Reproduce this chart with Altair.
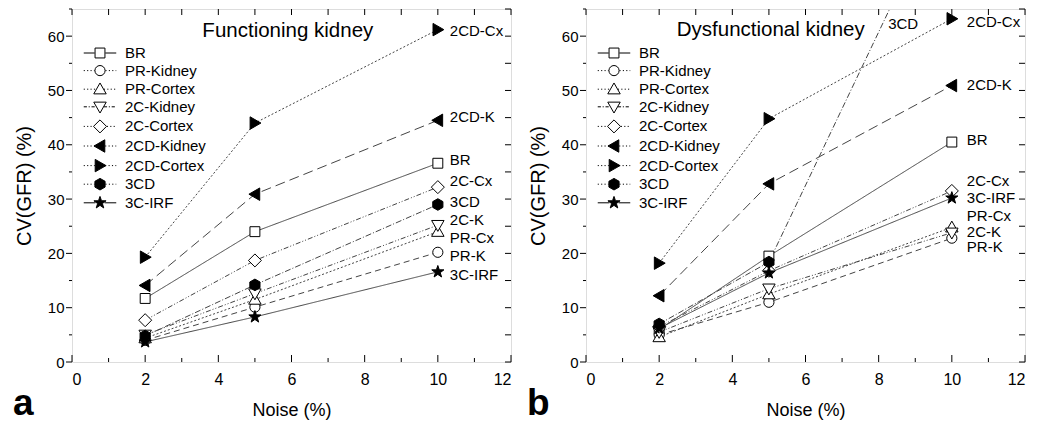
import altair as alt
import pandas as pd

# ---------------- data ----------------
series = ["BR", "PR-Kidney", "PR-Cortex", "2C-Kidney", "2C-Cortex",
          "2CD-Kidney", "2CD-Cortex", "3CD", "3C-IRF"]
noise = [2, 5, 10]

# Functioning kidney (panel a)
fa_BR = [11.7, 24.0, 36.6]
fa_PRK = [4.0, 10.1, 20.2]
fa_PRC = [4.4, 11.5, 24.0]
fa_2CK = [5.0, 12.6, 25.2]
fa_2CC = [7.7, 18.7, 32.2]
fa_2CDK = [14.1, 30.9, 44.5]
fa_2CDC = [19.3, 44.0, 61.2]
fa_3CD = [4.8, 14.2, 29.0]
fa_3CIRF = [3.7, 8.3, 16.6]

# Dysfunctional kidney (panel b)
dy_BR = [6.0, 19.5, 40.5]
dy_PRK = [5.0, 11.0, 22.8]
dy_PRC = [4.6, 12.5, 24.8]
dy_2CK = [5.5, 13.5, 23.8]
dy_2CC = [6.5, 16.8, 31.5]
dy_2CDK = [12.2, 32.8, 50.9]
dy_2CDC = [18.2, 44.8, 63.2]
dy_3CD = [7.0, 18.4, 89.0]
dy_3CIRF = [6.2, 16.4, 30.2]

fa_label_text = ["2CD-Cx", "2CD-K", "BR", "2C-Cx", "3CD", "2C-K", "PR-Cx", "PR-K", "3C-IRF"]
fa_label_x = [10, 10, 10, 10, 10, 10, 10, 10, 10]
fa_label_y = [60.9, 45.2, 37.2, 33.3, 29.5, 26.1, 22.9, 19.6, 16.0]

dy_label_text = ["2CD-Cx", "2CD-K", "BR", "2C-Cx", "3C-IRF", "PR-Cx", "2C-K", "PR-K", "3CD"]
dy_label_x = [10, 10, 10, 10, 10, 10, 10, 10, 7.85]
dy_label_y = [62.6, 51.0, 40.8, 33.3, 30.2, 26.8, 23.9, 21.1, 62.3]

fa_title = ["Functioning kidney"]
fa_title_x = [5.9]
fa_title_y = [60.9]
dy_title = ["Dysfunctional kidney"]
dy_title_x = [5.05]
dy_title_y = [61.1]

x_ticks = list(range(0, 13))
x_labels = list(range(0, 13, 2))
y_ticks = list(range(0, 66, 5))
y_labels = list(range(0, 61, 10))

# ---------------- styles ----------------
FONT = "Liberation Sans"
NARROW = "Liberation Sans Narrow, Arial Narrow, Liberation Sans"
W, H = 439, 353

fills = ["white", "white", "white", "white", "white", "black", "black", "black", "black"]
strokes = ["black"] * 9

marker = {
    "BR": ("M-0.7,-0.7H0.7V0.7H-0.7Z", 0.7),
    "PR-Kidney": ("M0.72,0A0.72,0.72,0,1,1,-0.72,0A0.72,0.72,0,1,1,0.72,0Z", 0.72),
    "PR-Cortex": ("M0,-0.88L0.88,0.66L-0.88,0.66Z", 0.5),
    "2C-Kidney": ("M0,0.88L0.88,-0.66L-0.88,-0.66Z", 0.5),
    "2C-Cortex": ("M0,-0.92L0.92,0L0,0.92L-0.92,0Z", 0.92),
    "2CD-Kidney": ("M-0.85,0L0.68,-0.88L0.68,0.88Z", 0.68),
    "2CD-Cortex": ("M0.85,0L-0.68,-0.88L-0.68,0.88Z", 0.68),
    "3CD": ("M0,-0.82L0.72,-0.41L0.72,0.41L0,0.82L-0.72,0.41L-0.72,-0.41Z", 0.72),
    "3C-IRF": ("M0,-0.9L0.21,-0.29L0.86,-0.28L0.34,0.11L0.53,0.73L0,0.36L-0.53,0.73"
               "L-0.34,0.11L-0.86,-0.28L-0.21,-0.29Z", 0.6),
}

plot_dash = [[1, 0], [6, 4], [2, 2], [5, 2, 1, 2, 1, 2], [5, 2, 1, 2, 1, 2],
             [10, 5], [2, 2], [6, 2, 1, 2], [1, 0]]

legend_dot = {"BR": None, "3C-IRF": None, "2C-Kidney": [(0.45, 0.25), (0.15, 0.25)]}


def segs(a, b, pattern):
    out = []
    if pattern is None:
        return f"M{a:.2f},0L{b:.2f},0"
    x = a
    i = 0
    while x < b - 1e-6:
        on, off = pattern[i % len(pattern)]
        e = min(x + on, b)
        out.append(f"M{x:.2f},0L{e:.2f},0")
        x = e + off
        i += 1
    return "".join(out)


L = 2.3
legend_paths = []
for s in series:
    p, m = marker[s]
    pat = legend_dot.get(s, [(0.16, 0.32)])
    legend_paths.append(p + segs(-L, -m - 0.05, pat) + segs(m + 0.05, L, pat))
plot_paths = [marker[s][0] for s in series]


def long_table(vals):
    rows = []
    for s, v in zip(series, vals):
        for n, c in zip(noise, v):
            rows.append({"series": s, "noise": n, "cv": c})
    return pd.DataFrame(rows)


def panel(vals, ltext, lx, ly, ldx, ttext, tx, ty, letter):
    df = long_table(vals)
    xsc = alt.Scale(domain=[0, 12], nice=False)
    ysc = alt.Scale(domain=[0, 65], nice=False)
    X = alt.X("noise:Q", scale=xsc,
              axis=alt.Axis(values=x_labels, ticks=False, domain=False, grid=False,
                            title="Noise (%)", labelPadding=9, titlePadding=14,
                            labelFont=NARROW, labelFontSize=16, titleFont=NARROW,
                            titleFontSize=18, titleFontWeight="normal",
                            labelColor="black", titleColor="black"))
    Y = alt.Y("cv:Q", scale=ysc,
              axis=alt.Axis(values=y_labels, ticks=False, domain=False, grid=False,
                            title="CV(GFR) (%)", labelPadding=8, titlePadding=13,
                            labelFont=FONT, labelFontSize=15, titleFont=FONT,
                            titleFontSize=20, titleFontWeight="normal",
                            labelColor="black", titleColor="black"))

    lines = alt.Chart(df).mark_line(clip=True, strokeWidth=1, color="#444").encode(
        x=X, y=Y,
        strokeDash=alt.StrokeDash("series:N", scale=alt.Scale(domain=series, range=plot_dash),
                                  legend=None))
    points = alt.Chart(df).mark_point(clip=True, filled=True, opacity=1, stroke="black",
                                      strokeWidth=1, size=200).encode(
        x="noise:Q", y="cv:Q",
        shape=alt.Shape("series:N", scale=alt.Scale(domain=series, range=plot_paths), legend=None),
        fill=alt.Fill("series:N", scale=alt.Scale(domain=series, range=fills), legend=None))

    leg = alt.Legend(title=None, orient="none", legendX=20, legendY=36, padding=0,
                     symbolSize=200, symbolStrokeWidth=1,
                     labelFont=FONT, labelFontSize=15, labelColor="black",
                     labelOffset=17, rowPadding=1.6, symbolOpacity=1)
    legend_layer = alt.Chart(df).transform_filter("false").mark_point(
        filled=True, opacity=1, strokeWidth=1, size=200).encode(
        x="noise:Q", y="cv:Q",
        shape=alt.Shape("series:N", scale=alt.Scale(domain=series, range=legend_paths), legend=leg),
        fill=alt.Fill("series:N", scale=alt.Scale(domain=series, range=fills), legend=leg),
        stroke=alt.Stroke("series:N", scale=alt.Scale(domain=series, range=strokes), legend=leg))

    lab_df = pd.DataFrame({"lx": lx, "ly": ly, "text": ltext})
    labels = alt.Chart(lab_df).mark_text(align="left", baseline="middle", dx=ldx,
                                         font=FONT, fontSize=15, color="black").encode(
        x="lx:Q", y="ly:Q", text="text:N")

    t_df = pd.DataFrame({"tx": tx, "ty": ty, "text": ttext})
    title = alt.Chart(t_df).mark_text(align="center", baseline="middle", font=FONT,
                                      fontSize=20.5, color="black").encode(
        x="tx:Q", y="ty:Q", text="text:N")

    letter_df = pd.DataFrame({"text": [letter]})
    letter_mark = alt.Chart(letter_df).mark_text(align="left", baseline="bottom", font=FONT,
                                                 fontSize=37, fontWeight="bold",
                                                 color="black").encode(
        x=alt.value(-59), y=alt.value(H + 61), text="text:N")

    xt = pd.DataFrame({"v": x_ticks, "major": [v % 2 == 0 for v in x_ticks]})
    yt = pd.DataFrame({"v": y_ticks, "major": [v % 10 == 0 for v in y_ticks]})
    bottom_major = alt.Chart(xt).transform_filter("datum.major").mark_rule(
        color="black", strokeWidth=1).encode(x="v:Q", y=alt.value(H), y2=alt.value(H - 7))
    bottom_minor = alt.Chart(xt).transform_filter("!datum.major").mark_rule(
        color="black", strokeWidth=1).encode(x="v:Q", y=alt.value(H), y2=alt.value(H - 4))
    top_t = alt.Chart(xt).mark_rule(color="black", strokeWidth=1).encode(
        x="v:Q", y=alt.value(0), y2=alt.value(6))
    right_t = alt.Chart(yt).mark_rule(color="black", strokeWidth=1).encode(
        y="v:Q", x=alt.value(W), x2=alt.value(W - 6))
    left_major = alt.Chart(yt).transform_filter("datum.major").mark_rule(
        color="black", strokeWidth=1).encode(y="v:Q", x=alt.value(0), x2=alt.value(-6))
    left_minor = alt.Chart(yt).transform_filter("!datum.major").mark_rule(
        color="black", strokeWidth=1).encode(y="v:Q", x=alt.value(0), x2=alt.value(-3))

    return alt.layer(lines, points, legend_layer, labels, title, letter_mark,
                     bottom_major, bottom_minor, top_t, right_t, left_major, left_minor
                     ).resolve_scale(shape="independent", fill="independent",
                                     stroke="independent").properties(width=W, height=H)


pa = panel([fa_BR, fa_PRK, fa_PRC, fa_2CK, fa_2CC, fa_2CDK, fa_2CDC, fa_3CD, fa_3CIRF],
           fa_label_text, fa_label_x, fa_label_y, 12, fa_title, fa_title_x, fa_title_y, "a")
pb = panel([dy_BR, dy_PRK, dy_PRC, dy_2CK, dy_2CC, dy_2CDK, dy_2CDC, dy_3CD, dy_3CIRF],
           dy_label_text, dy_label_x, dy_label_y, 15, dy_title, dy_title_x, dy_title_y, "b")

chart = alt.hconcat(pa, pb, spacing=14).resolve_scale(
    shape="independent", fill="independent", stroke="independent", strokeDash="independent"
).resolve_legend(shape="independent", fill="independent", stroke="independent").properties(
    padding={"left": 4, "top": 0, "right": 0, "bottom": 0}
).configure_view(stroke="black", strokeWidth=1).configure(background="white")

chart.save("out.html", embed_options={"renderer": "svg", "actions": False})
